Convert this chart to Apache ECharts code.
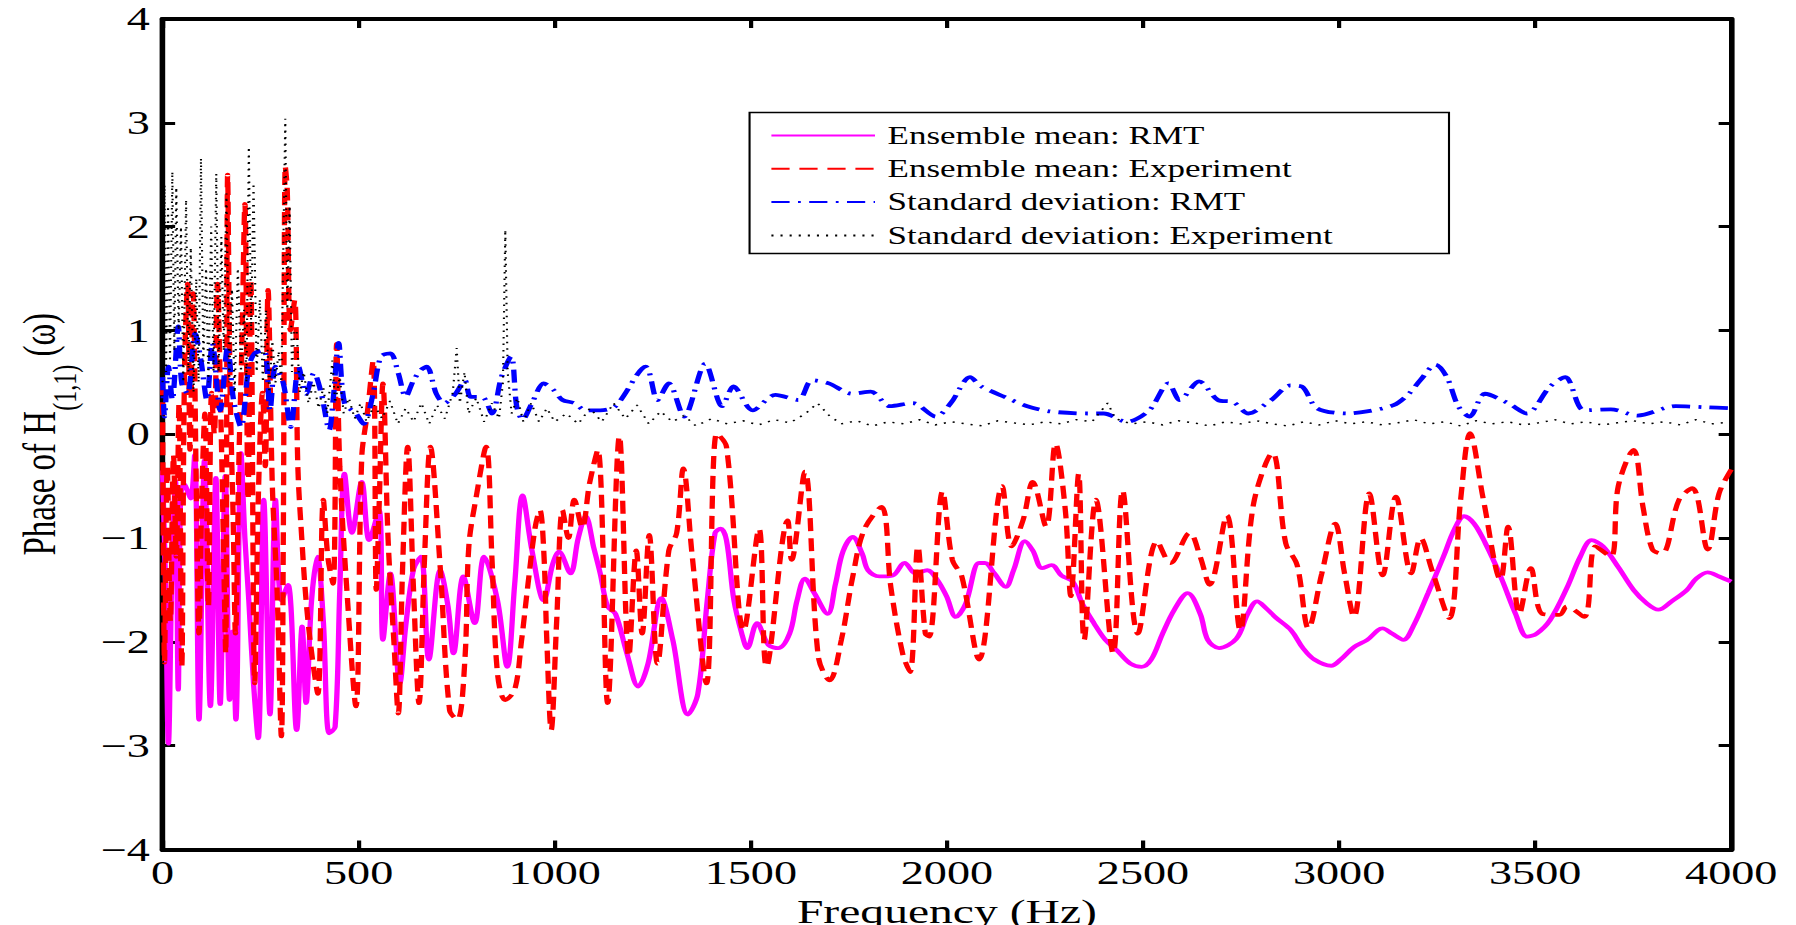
<!DOCTYPE html>
<html><head><meta charset="utf-8">
<script src="https://cdn.jsdelivr.net/npm/echarts@6/dist/echarts.min.js"></script>
<style>
html,body{margin:0;padding:0;background:#fff;overflow:hidden;}
#wrap{width:1796px;height:925px;overflow:hidden;}
#main{width:1282.857px;height:925px;transform:scaleX(1.4);transform-origin:0 0;}
</style></head>
<body><div id="wrap"><div id="main"></div></div>
<script>
// ---- data: [frequency (Hz), phase] ----
const seriesNames = ['Ensemble mean: RMT','Ensemble mean: Experiment','Standard deviation: RMT','Standard deviation: Experiment'];

const rmtMean = [[0,-0.35],[8,-1.5],[15,-2.98],[24,-1.3],[33,-0.45],[40,-2.46],[46,-0.6],[55,-0.48],[64,-0.55],[72,-0.62],[82,-0.2],[93,-2.75],[107,-0.25],[122,-2.62],[136,-0.42],[147,-2.6],[160,-0.4],[171,-2.56],[179,-1.9],[187,-2.75],[200,-0.18],[210,-1.0],[220,-1.6],[232,-2.4],[244,-2.93],[258,-0.63],[274,-2.7],[288,-0.63],[303,-1.6],[320,-1.45],[342,-2.85],[356,-1.85],[366,-2.59],[380,-1.6],[395,-1.18],[410,-1.8],[425,-2.88],[440,-2.82],[452,-1.5],[464,-0.38],[483,-0.95],[508,-0.46],[527,-1.02],[552,-0.73],[562,-1.98],[581,-1.34],[605,-2.4],[620,-1.85],[640,-1.3],[659,-1.18],[679,-2.17],[708,-1.31],[728,-1.66],[742,-2.11],[767,-1.37],[796,-1.82],[820,-1.18],[854,-1.6],[879,-2.24],[898,-1.44],[918,-0.59],[942,-1.12],[972,-1.6],[995,-1.25],[1011,-1.13],[1040,-1.34],[1060,-1.0],[1079,-0.79],[1100,-1.1],[1116,-1.34],[1135,-1.66],[1155,-1.73],[1184,-2.11],[1213,-2.43],[1238,-2.21],[1272,-1.58],[1301,-1.98],[1340,-2.70],[1365,-2.50],[1389,-1.60],[1409,-0.95],[1423,-0.91],[1438,-1.02],[1457,-1.60],[1477,-1.92],[1491,-2.06],[1516,-1.82],[1545,-2.03],[1570,-2.06],[1599,-1.92],[1618,-1.60],[1638,-1.39],[1662,-1.53],[1696,-1.73],[1716,-1.44],[1735,-1.13],[1760,-0.99],[1784,-1.15],[1799,-1.31],[1828,-1.37],[1862,-1.36],[1892,-1.24],[1921,-1.34],[1950,-1.31],[1975,-1.40],[1999,-1.56],[2023,-1.76],[2048,-1.63],[2082,-1.24],[2097,-1.24],[2121,-1.34],[2150,-1.47],[2170,-1.31],[2199,-1.03],[2219,-1.12],[2243,-1.29],[2267,-1.26],[2292,-1.36],[2321,-1.42],[2345,-1.63],[2375,-1.82],[2404,-1.98],[2433,-2.08],[2468,-2.21],[2497,-2.24],[2521,-2.17],[2550,-1.92],[2580,-1.69],[2614,-1.53],[2646,-1.73],[2665,-1.98],[2694,-2.06],[2738,-1.97],[2767,-1.73],[2791,-1.61],[2815,-1.68],[2840,-1.77],[2878,-1.89],[2908,-2.06],[2937,-2.17],[2980,-2.23],[3004,-2.17],[3038,-2.05],[3072,-1.98],[3111,-1.87],[3135,-1.92],[3164,-1.98],[3189,-1.85],[3227,-1.53],[3266,-1.18],[3295,-0.91],[3319,-0.79],[3344,-0.86],[3373,-1.05],[3412,-1.37],[3450,-1.73],[3480,-1.95],[3504,-1.92],[3538,-1.79],[3581,-1.48],[3615,-1.18],[3644,-1.02],[3673,-1.08],[3712,-1.28],[3751,-1.50],[3785,-1.63],[3814,-1.69],[3848,-1.61],[3887,-1.50],[3911,-1.39],[3940,-1.33],[3969,-1.37],[4000,-1.42]];

const expMean = [[0,0.5],[5,-2.2],[12,-0.3],[20,-1.8],[28,-0.2],[35,-1.18],[42,0.3],[49,-2.24],[56,0.6],[64,1.45],[70,-0.15],[78,1.36],[86,-0.5],[93,-1.92],[100,-0.6],[108,0.2],[117,-1.66],[125,0.4],[132,0.0],[140,1.45],[148,0.3],[155,-1.0],[161,-2.11],[166,2.5],[172,0.5],[180,-0.8],[186,-1.92],[195,-0.2],[202,0.8],[210,2.22],[218,-0.63],[225,1.49],[235,-2.4],[245,-0.5],[255,0.4],[262,-0.31],[269,1.39],[280,-0.5],[292,-1.5],[303,-2.91],[308,-0.95],[313,2.58],[318,2.35],[326,1.0],[337,1.29],[345,-0.31],[355,-1.0],[366,-1.6],[380,-2.1],[396,-2.5],[410,-0.63],[422,-1.2],[435,-1.44],[444,0.87],[452,-0.31],[470,-1.5],[493,-2.62],[508,-0.22],[522,0.2],[537,0.71],[545,-1.5],[553,-0.6],[562,0.49],[575,-1.0],[590,-2.0],[601,-2.69],[612,-1.3],[625,-0.12],[640,-1.5],[654,-2.59],[668,-1.2],[683,-0.12],[708,-1.28],[732,-2.66],[752,-2.75],[771,-2.17],[781,-1.08],[800,-0.6],[825,-0.12],[840,-1.2],[854,-2.3],[874,-2.56],[898,-2.46],[915,-2.0],[932,-1.44],[950,-0.9],[962,-0.73],[972,-1.12],[980,-2.0],[991,-2.85],[1005,-1.8],[1020,-0.73],[1035,-1.0],[1050,-0.63],[1070,-0.9],[1089,-0.47],[1110,-0.15],[1135,-2.59],[1165,-0.02],[1189,-2.14],[1208,-1.12],[1223,-1.92],[1241,-0.97],[1262,-2.21],[1291,-1.12],[1311,-0.95],[1328,-0.33],[1350,-1.15],[1387,-2.40],[1413,0.01],[1438,-0.12],[1482,-1.89],[1521,-0.91],[1540,-2.24],[1594,-0.83],[1604,-1.21],[1638,-0.36],[1672,-2.14],[1701,-2.37],[1731,-1.98],[1760,-1.37],[1789,-0.92],[1833,-0.70],[1857,-1.47],[1887,-2.11],[1906,-2.29],[1926,-1.08],[1945,-1.92],[1955,-1.95],[1989,-0.55],[2014,-1.21],[2038,-1.37],[2082,-2.17],[2141,-0.50],[2165,-1.08],[2194,-0.83],[2219,-0.46],[2253,-0.89],[2277,-0.09],[2302,-0.73],[2316,-1.56],[2336,-0.38],[2350,-1.98],[2380,-0.63],[2424,-2.11],[2448,-0.54],[2487,-1.92],[2536,-1.03],[2570,-1.24],[2619,-0.95],[2646,-1.18],[2670,-1.45],[2714,-0.78],[2748,-1.89],[2782,-0.67],[2830,-0.18],[2864,-1.05],[2893,-1.26],[2922,-1.87],[2956,-1.34],[2990,-0.86],[3014,-1.34],[3038,-1.76],[3077,-0.57],[3111,-1.36],[3145,-0.60],[3184,-1.34],[3208,-1.00],[3237,-1.31],[3281,-1.77],[3310,-0.63],[3334,0.01],[3368,-0.63],[3412,-1.40],[3431,-0.89],[3460,-1.73],[3489,-1.29],[3518,-1.73],[3562,-1.74],[3581,-1.66],[3625,-1.76],[3654,-1.08],[3693,-1.18],[3712,-0.50],[3751,-0.15],[3775,-0.70],[3799,-1.11],[3823,-1.15],[3867,-0.63],[3901,-0.52],[3940,-1.11],[3969,-0.57],[4000,-0.34]];

const rmtStd = [[0,0.55],[5,0.17],[15,0.65],[25,0.33],[40,1.04],[49,0.49],[64,0.39],[83,0.97],[98,0.71],[113,0.33],[127,0.88],[147,0.23],[166,0.84],[181,0.33],[200,0.07],[220,0.65],[235,0.78],[259,0.81],[274,0.23],[288,0.65],[308,0.49],[327,0.07],[347,0.65],[366,0.39],[386,0.59],[405,0.39],[425,0.04],[435,0.33],[449,0.88],[464,0.30],[493,0.20],[513,0.10],[537,0.39],[557,0.75],[581,0.78],[601,0.59],[620,0.36],[640,0.52],[659,0.62],[674,0.65],[698,0.39],[718,0.30],[747,0.39],[771,0.52],[786,0.36],[815,0.36],[840,0.20],[864,0.55],[889,0.75],[903,0.27],[918,0.14],[942,0.30],[972,0.49],[996,0.43],[1020,0.33],[1050,0.30],[1079,0.23],[1116,0.23],[1155,0.27],[1232,0.65],[1262,0.33],[1291,0.49],[1330,0.17],[1384,0.68],[1427,0.27],[1456,0.46],[1505,0.23],[1563,0.38],[1621,0.33],[1656,0.52],[1699,0.49],[1758,0.39],[1806,0.41],[1855,0.27],[1913,0.30],[1972,0.17],[2010,0.30],[2059,0.55],[2088,0.46],[2147,0.36],[2205,0.27],[2263,0.22],[2361,0.20],[2400,0.20],[2458,0.12],[2516,0.23],[2565,0.49],[2594,0.33],[2643,0.51],[2691,0.33],[2730,0.31],[2769,0.20],[2827,0.33],[2876,0.47],[2905,0.46],[2944,0.25],[3022,0.20],[3071,0.22],[3139,0.28],[3178,0.39],[3207,0.52],[3246,0.67],[3275,0.55],[3304,0.27],[3333,0.17],[3372,0.39],[3431,0.30],[3479,0.20],[3538,0.46],[3577,0.55],[3625,0.23],[3693,0.24],[3761,0.18],[3858,0.27],[3936,0.26],[4000,0.25]];

const expStd = [[0,0.5],[5,2.4],[9,0.6],[14,2.2],[19,0.7],[25,2.53],[30,0.8],[35,2.38],[41,1.0],[47,2.0],[53,0.5],[60,2.26],[66,0.6],[72,1.8],[79,0.4],[86,1.5],[92,0.5],[98,2.66],[104,0.7],[111,1.6],[117,0.5],[124,2.0],[130,0.6],[137,2.51],[143,0.6],[150,1.9],[156,0.8],[163,2.32],[170,0.5],[177,1.4],[184,0.4],[192,1.6],[200,0.6],[208,1.2],[214,0.5],[220,2.77],[226,1.0],[232,2.42],[240,0.6],[248,1.3],[256,0.5],[264,1.2],[272,0.4],[280,0.9],[288,0.5],[296,0.8],[303,0.5],[308,1.8],[313,3.04],[318,1.2],[324,2.2],[330,0.6],[336,1.0],[342,1.0],[350,0.4],[360,0.6],[372,0.3],[385,0.5],[398,0.25],[410,0.45],[420,0.2],[428,0.5],[433,0.71],[440,0.3],[452,0.55],[462,0.2],[475,0.35],[490,0.15],[505,0.3],[520,0.12],[540,0.28],[560,0.15],[580,0.32],[600,0.1],[620,0.25],[640,0.12],[660,0.3],[680,0.1],[700,0.28],[720,0.15],[740,0.4],[750,0.83],[758,0.3],[770,0.6],[780,0.2],[800,0.35],[820,0.12],[840,0.3],[858,0.15],[868,0.5],[874,1.97],[880,0.6],[890,0.2],[905,0.35],[920,0.12],[940,0.3],[960,0.12],[980,0.25],[1000,0.12],[1030,0.2],[1060,0.1],[1090,0.25],[1120,0.12],[1150,0.3],[1180,0.15],[1210,0.28],[1240,0.1],[1270,0.22],[1300,0.12],[1330,0.18],[1360,0.08],[1400,0.15],[1440,0.1],[1480,0.13],[1520,0.09],[1560,0.14],[1600,0.11],[1640,0.2],[1670,0.3],[1700,0.18],[1730,0.1],[1770,0.13],[1810,0.08],[1850,0.12],[1890,0.1],[1930,0.14],[1970,0.09],[2010,0.12],[2050,0.1],[2090,0.08],[2130,0.13],[2170,0.11],[2210,0.09],[2250,0.12],[2290,0.1],[2330,0.14],[2370,0.12],[2410,0.3],[2430,0.15],[2470,0.1],[2510,0.12],[2550,0.09],[2590,0.13],[2630,0.11],[2670,0.08],[2710,0.12],[2750,0.1],[2790,0.13],[2830,0.1],[2870,0.08],[2910,0.12],[2950,0.09],[2990,0.13],[3030,0.1],[3070,0.12],[3110,0.09],[3150,0.11],[3190,0.14],[3230,0.1],[3270,0.12],[3310,0.08],[3350,0.13],[3390,0.1],[3430,0.12],[3470,0.09],[3510,0.11],[3550,0.14],[3590,0.1],[3630,0.12],[3670,0.09],[3710,0.11],[3750,0.13],[3790,0.1],[3830,0.12],[3870,0.09],[3910,0.14],[3950,0.1],[4000,0.12]];

const xRange = [0, 4000, 500];   // min, max, tick step
const yRange = [-4, 4, 1];

// ---- chart ----
const FONT = "'Liberation Serif','Times New Roman',serif";
const chart = echarts.init(document.getElementById('main'), null, {renderer:'svg'});
const fmtY = v => v < 0 ? '\u2212' + (-v) : String(v);
const fmtX = v => String(v);
const axisLine = {show:true, onZero:false, lineStyle:{color:'#000', width:4}};
const axisTick = {show:true, inside:true, length:9, lineStyle:{color:'#000', width:3}};

chart.setOption({
  animation:false,
  backgroundColor:'#fff',
  grid:{left:116.1, right:46.4, top:19, bottom:75.5, outerBoundsMode:'none'},
  xAxis:[{
    type:'value', min:xRange[0], max:xRange[1], interval:xRange[2], position:'bottom',
    axisLine, axisTick, splitLine:{show:false},
    axisLabel:{color:'#000', fontFamily:FONT, fontSize:33, margin:7, formatter:fmtX},
    name:'Frequency (Hz)', nameLocation:'middle', nameGap:38,
    nameTextStyle:{color:'#000', fontFamily:FONT, fontSize:34}
  },{
    type:'value', min:xRange[0], max:xRange[1], interval:xRange[2], position:'top',
    axisLine, axisTick, splitLine:{show:false}, axisLabel:{show:false}
  }],
  yAxis:[{
    type:'value', min:yRange[0], max:yRange[1], interval:yRange[2], position:'left',
    axisLine, axisTick, splitLine:{show:false},
    axisLabel:{color:'#000', fontFamily:FONT, fontSize:33, margin:9, formatter:fmtY},
    name:'{m|Phase of H}{s|(1,1)}{m| (\u03c9)}', nameLocation:'middle', nameRotate:90, nameGap:58,
    nameTextStyle:{color:'#000', fontFamily:FONT, fontSize:33, lineHeight:60,
      rich:{
        m:{fontFamily:FONT, fontSize:33, color:'#000', lineHeight:60, verticalAlign:'middle'},
        s:{fontFamily:FONT, fontSize:24, color:'#000', lineHeight:24, verticalAlign:'bottom'}
      }}
  },{
    type:'value', min:yRange[0], max:yRange[1], interval:yRange[2], position:'right',
    axisLine, axisTick, splitLine:{show:false}, axisLabel:{show:false}
  }],
  legend:{
    orient:'vertical', left:550, top:123, padding:0,
    itemWidth:74, itemHeight:14, itemGap:8.3,
    itemStyle:{opacity:0},
    textStyle:{color:'#000', fontFamily:FONT, fontSize:25, lineHeight:25, padding:[0,0,0,4]},
    data:seriesNames
  },
  graphic:[{type:'rect', z:3, silent:true,
    shape:{x:535.4, y:112.5, width:499.6, height:141},
    style:{fill:'#fff', stroke:'#000', lineWidth:1.5}}],
  series:[
    {name:seriesNames[0], type:'line', data:rmtMean, showSymbol:false, symbol:'none', smooth:0.35,
     lineStyle:{color:'#ff00ff', width:3.8, type:'solid'}, itemStyle:{color:'#ff00ff'}, z:2},
    {name:seriesNames[1], type:'line', data:expMean, showSymbol:false, symbol:'none', smooth:0.35,
     lineStyle:{color:'#ff0000', width:3.8, type:[13,7]}, itemStyle:{color:'#ff0000'}, z:2},
    {name:seriesNames[2], type:'line', data:rmtStd, showSymbol:false, symbol:'none', smooth:0.3,
     lineStyle:{color:'#0000ff', width:3.8, type:[13,6,2,6]}, itemStyle:{color:'#0000ff'}, z:2},
    {name:seriesNames[3], type:'line', data:expStd, showSymbol:false, symbol:'none', smooth:false,
     lineStyle:{color:'#000000', width:1.5, type:[1.5,5]}, itemStyle:{color:'#000000'}, z:2}
  ]
});
</script></body></html>
